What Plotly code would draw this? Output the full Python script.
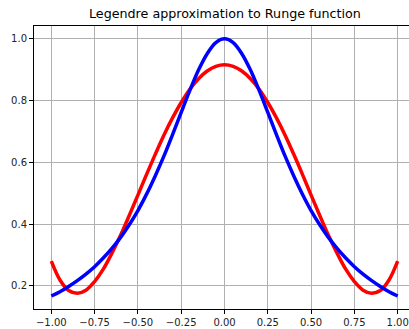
import plotly.graph_objects as go

x_vals = [-1.00, -0.95, -0.90, -0.85, -0.80, -0.75, -0.70, -0.65, -0.60, -0.55,
          -0.50, -0.45, -0.40, -0.35, -0.30, -0.25, -0.20, -0.15, -0.10, -0.05,
          0.00, 0.05, 0.10, 0.15, 0.20, 0.25, 0.30, 0.35, 0.40, 0.45,
          0.50, 0.55, 0.60, 0.65, 0.70, 0.75, 0.80, 0.85, 0.90, 0.95, 1.00]

runge_vals = [0.167, 0.181, 0.198, 0.217, 0.238, 0.262, 0.290, 0.321, 0.357, 0.398,
              0.444, 0.497, 0.556, 0.620, 0.690, 0.762, 0.833, 0.899, 0.952, 0.988,
              1.000, 0.988, 0.952, 0.899, 0.833, 0.762, 0.690, 0.620, 0.556, 0.497,
              0.444, 0.398, 0.357, 0.321, 0.290, 0.262, 0.238, 0.217, 0.198, 0.181, 0.167]

legendre_vals = [0.280, 0.219, 0.185, 0.176, 0.186, 0.214, 0.254, 0.306, 0.364, 0.428,
                 0.494, 0.561, 0.626, 0.688, 0.744, 0.794, 0.837, 0.871, 0.896, 0.911,
                 0.916, 0.911, 0.896, 0.871, 0.837, 0.794, 0.744, 0.688, 0.626, 0.561,
                 0.494, 0.428, 0.364, 0.306, 0.254, 0.214, 0.186, 0.176, 0.185, 0.219, 0.280]

x_ticks = [-1.00, -0.75, -0.50, -0.25, 0.00, 0.25, 0.50, 0.75, 1.00]
y_ticks = [0.2, 0.4, 0.6, 0.8, 1.0]
title_text = "Legendre approximation to Runge function"

fig = go.Figure()
fig.add_trace(go.Scatter(x=x_vals, y=legendre_vals, mode="lines",
                         line=dict(color="#ff0000", width=3.5, shape="spline"),
                         showlegend=False))
fig.add_trace(go.Scatter(x=x_vals, y=runge_vals, mode="lines",
                         line=dict(color="#0000ff", width=3.5, shape="spline"),
                         showlegend=False))

fig.update_layout(
    width=409, height=329,
    margin=dict(l=34, r=0, t=26, b=20),
    paper_bgcolor="white", plot_bgcolor="white",
    font=dict(family="DejaVu Sans", size=10, color="#222222"),
    annotations=[dict(text=title_text, xref="x", x=0, yref="paper", y=1,
                      yanchor="bottom", xanchor="center", yshift=3, showarrow=False,
                      font=dict(size=12.7, family="DejaVu Sans", color="#000000"))],
)
fig.update_xaxes(range=[-1.1, 1.0654], tickvals=x_ticks, tickformat=".2f",
                 showgrid=True, gridcolor="#b0b0b0", gridwidth=1,
                 zeroline=False, showline=True, linecolor="#000000", linewidth=1,
                 mirror=True, ticks="outside", ticklen=4, tickcolor="#000000")
fig.update_yaxes(range=[0.1250, 1.0417], tickvals=y_ticks, tickformat=".1f",
                 showgrid=True, gridcolor="#b0b0b0", gridwidth=1,
                 zeroline=False, showline=True, linecolor="#000000", linewidth=1,
                 mirror=False, ticks="outside", ticklen=4, tickcolor="#000000")

fig.write_html("out.html")
